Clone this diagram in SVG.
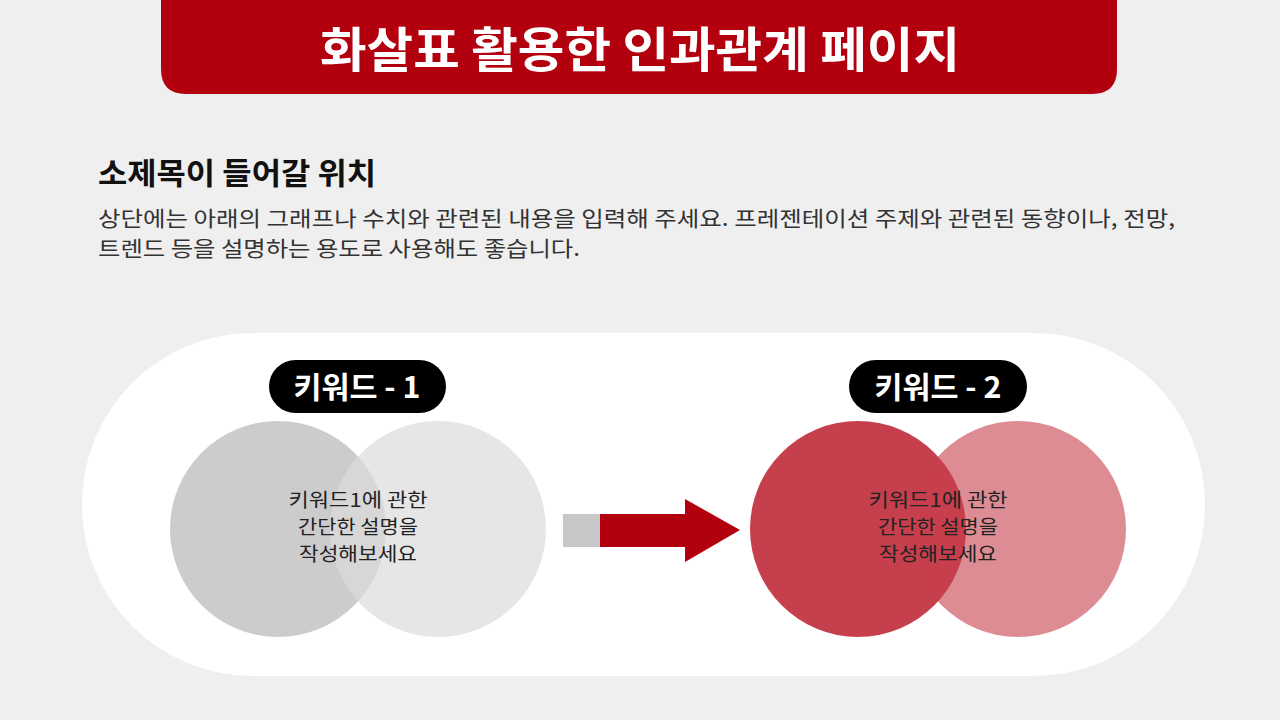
<svg xmlns="http://www.w3.org/2000/svg" width="1280" height="720" viewBox="0 0 1280 720">
<style>
text{font-family:"Noto Sans CJK KR","Noto Sans",sans-serif}
.d{font-size:19px;fill:#222;text-anchor:middle}
.k{font-size:30px;font-weight:bold;fill:#fff;text-anchor:middle}
</style>
<rect width="1280" height="720" fill="#f0eff0"/>
<g id="title"><path d="M161 0H1117V69Q1117 94 1092 94H186Q161 94 161 69Z" fill="#b3000f"/>
<text x="640" y="67" font-size="48" font-weight="bold" fill="#fff" text-anchor="middle" textLength="640" lengthAdjust="spacingAndGlyphs">화살표 활용한 인과관계 페이지</text></g>
<g id="subtitle"><text x="98" y="184" font-size="30" font-weight="bold" fill="#111" textLength="278" lengthAdjust="spacingAndGlyphs">소제목이 들어갈 위치</text>
<text x="98" y="226" font-size="21" fill="#333" textLength="1077" lengthAdjust="spacingAndGlyphs">상단에는 아래의 그래프나 수치와 관련된 내용을 입력해 주세요. 프레젠테이션 주제와 관련된 동향이나, 전망,</text>
<text x="98" y="256" font-size="21" fill="#333" textLength="482" lengthAdjust="spacingAndGlyphs">트렌드 등을 설명하는 용도로 사용해도 좋습니다.</text></g>
<rect id="panel" x="82" y="333" width="1123" height="343" rx="171" fill="#fff"/>
<g id="node1">
<circle cx="278" cy="529" r="108" fill="#c4c3c4" opacity="0.85"/>
<circle cx="438" cy="529" r="108" fill="#dddcdd" opacity="0.7"/>
<rect x="269" y="360" width="177" height="53" rx="26.5" fill="#000"/>
<text class="k" x="357" y="398" textLength="127" lengthAdjust="spacingAndGlyphs">키워드 - 1</text>
<text class="d" x="358" y="507" textLength="139" lengthAdjust="spacingAndGlyphs">키워드1에 관한</text>
<text class="d" x="358" y="534" textLength="120" lengthAdjust="spacingAndGlyphs">간단한 설명을</text>
<text class="d" x="358" y="561" textLength="118" lengthAdjust="spacingAndGlyphs">작성해보세요</text>
</g>
<g id="connectors">
<rect x="563" y="514" width="38" height="33" fill="#c8c7c8"/>
<rect x="600" y="514" width="86" height="33" fill="#b3000f"/>
<polygon points="685,499 740,530 685,562" fill="#b3000f"/>
</g>
<g id="node2">
<circle cx="858" cy="529" r="108" fill="#b7101f" opacity="0.8"/>
<circle cx="1018" cy="529" r="108" fill="#c8404c" opacity="0.6"/>
<rect x="849" y="360" width="178" height="53" rx="26.5" fill="#000"/>
<text class="k" x="938" y="398" textLength="127" lengthAdjust="spacingAndGlyphs">키워드 - 2</text>
<text class="d" x="938" y="507" textLength="139" lengthAdjust="spacingAndGlyphs">키워드1에 관한</text>
<text class="d" x="938" y="534" textLength="120" lengthAdjust="spacingAndGlyphs">간단한 설명을</text>
<text class="d" x="938" y="561" textLength="118" lengthAdjust="spacingAndGlyphs">작성해보세요</text>
</g>
</svg>
